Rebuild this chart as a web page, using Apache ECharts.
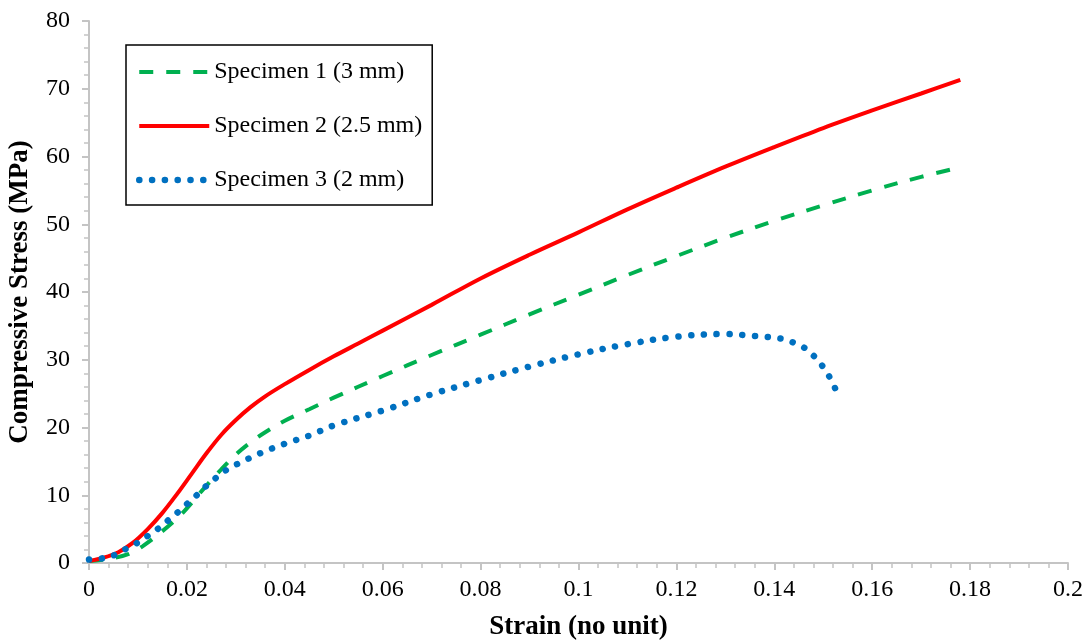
<!DOCTYPE html>
<html>
<head>
<meta charset="utf-8">
<script src="https://cdn.jsdelivr.net/npm/echarts@6/dist/echarts.min.js"></script>
<style>
html,body{margin:0;padding:0;background:#fff;}
#chart{width:1088px;height:641px;}
</style>
</head>
<body>
<div id="chart"></div>
<script>
const seriesNames = ['Specimen 1 (3 mm)', 'Specimen 2 (2.5 mm)', 'Specimen 3 (2 mm)'];

const strain1 = [0,0.004,0.008,0.011,0.015,0.019,0.023,0.027,0.03,0.033,0.036,0.04,0.045,0.05,0.06,0.07,0.08,0.09,0.1,0.11,0.12,0.13,0.14,0.15,0.16,0.17,0.178];
const stress1 = [0.3,0.6,1.3,2.5,4.7,7.3,10.6,13.8,16.0,17.8,19.3,21.0,22.7,24.4,27.6,30.7,33.7,36.7,39.6,42.5,45.3,48.0,50.5,52.8,55.0,57.0,58.4];

const strain2 = [0,0.003,0.006,0.009,0.012,0.015,0.018,0.021,0.024,0.027,0.03,0.033,0.036,0.04,0.045,0.05,0.055,0.06,0.07,0.08,0.09,0.1,0.11,0.12,0.13,0.14,0.15,0.16,0.17,0.178];
const stress2 = [0.3,0.8,1.6,3.0,5.0,7.4,10.2,13.2,16.2,18.9,21.1,23.0,24.6,26.4,28.5,30.5,32.4,34.3,38.1,42.0,45.5,48.8,52.2,55.4,58.5,61.4,64.2,66.8,69.3,71.3];

const strain3 = [0,0.0028,0.0053,0.0076,0.0097,0.0118,0.014,0.016,0.018,0.02,0.022,0.024,0.026,0.028,0.030,0.035,0.04,0.045,0.05,0.06,0.07,0.08,0.09,0.1,0.11,0.12,0.13,0.136,0.1416,0.144,0.1463,0.1483,0.15,0.1514,0.1526];
const stress3 = [0.5,0.7,1.2,2.1,2.9,3.9,5.0,6.2,7.4,8.7,10.0,11.4,12.6,13.7,14.5,16.2,17.6,18.8,20.3,22.5,24.9,27.0,29.0,30.8,32.3,33.4,33.8,33.5,33.1,32.5,31.7,30.4,28.9,27.3,25.5];

const xTicks = [0,0.02,0.04,0.06,0.08,0.1,0.12,0.14,0.16,0.18,0.2];
const yTicks = [0,10,20,30,40,50,60,70,80];

function pairs(xs, ys){ return xs.map((x,i)=>[x, ys[i]]); }

const FONT = "'Liberation Serif','Times New Roman',serif";
const AX = '#c4c4c4';
const GREEN = '#00b050', RED = '#ff0000', BLUE = '#0070c0';
const greenLine = {color:GREEN, width:4, type:[14,13]};
const redLine = {color:RED, width:4, type:'solid'};
const blueLine = {color:BLUE, width:6.5, type:[0.1,12.7], cap:'round'};

const chart = echarts.init(document.getElementById('chart'), null, {renderer:'canvas'});
chart.setOption({
  animation:false,
  backgroundColor:'#fff',
  grid:{left:89, right:20, top:21, bottom:78, containLabel:false, outerBoundsMode:'none'},
  legend:{
    orient:'vertical', left:126, top:45,
    padding:[15,10,13,10],
    itemWidth:70, itemHeight:20, itemGap:30,
    borderColor:'#000', borderWidth:1.5,
    backgroundColor:'#fff',
    itemStyle:{color:'rgba(0,0,0,0)', borderWidth:0, opacity:0},
    textStyle:{fontFamily:FONT, fontSize:24, color:'#000'},
    data:[
      {name:seriesNames[0], lineStyle:greenLine},
      {name:seriesNames[1], lineStyle:redLine},
      {name:seriesNames[2], lineStyle:blueLine}
    ]
  },
  xAxis:{
    type:'value', min:0, max:0.2, interval:0.02,
    name:'Strain (no unit)', nameLocation:'middle', nameGap:51,
    nameTextStyle:{fontFamily:FONT, fontSize:27, fontWeight:'bold', color:'#000'},
    axisLine:{show:true, onZero:false, lineStyle:{color:AX, width:2}},
    axisTick:{show:true, length:7, lineStyle:{color:AX, width:2}},
    minorTick:{show:true, splitNumber:5, length:5, lineStyle:{color:AX, width:1.5}},
    splitLine:{show:false},
    axisLabel:{fontFamily:FONT, fontSize:24, color:'#000', margin:15,
      formatter:v=>{ const t = xTicks.find(k=>Math.abs(k-v)<1e-9); return t===undefined? '' : String(t); }}
  },
  yAxis:{
    type:'value', min:0, max:80, interval:10,
    name:'Compressive Stress (MPa)', nameLocation:'middle', nameGap:55, nameRotate:90,
    nameTextStyle:{fontFamily:FONT, fontSize:27, fontWeight:'bold', color:'#000'},
    axisLine:{show:true, onZero:false, lineStyle:{color:AX, width:2}},
    axisTick:{show:true, length:7, lineStyle:{color:AX, width:2}},
    minorTick:{show:true, splitNumber:5, length:5, lineStyle:{color:AX, width:1.5}},
    splitLine:{show:false},
    axisLabel:{fontFamily:FONT, fontSize:24, color:'#000', margin:19,
      formatter:v=>{ const t = yTicks.find(k=>Math.abs(k-v)<1e-9); return t===undefined? '' : String(t); }}
  },
  series:[
    {
      name:seriesNames[0], type:'line', data:pairs(strain1, stress1), smooth:0.35,
      symbol:'none', color:GREEN, lineStyle:greenLine, z:2
    },
    {
      name:seriesNames[1], type:'line', data:pairs(strain2, stress2), smooth:0.35,
      symbol:'none', color:RED, lineStyle:redLine, z:3
    },
    {
      name:seriesNames[2], type:'line', data:pairs(strain3, stress3), smooth:0.35,
      symbol:'none', color:BLUE, lineStyle:blueLine, z:4
    }
  ]
});
</script>
</body>
</html>
